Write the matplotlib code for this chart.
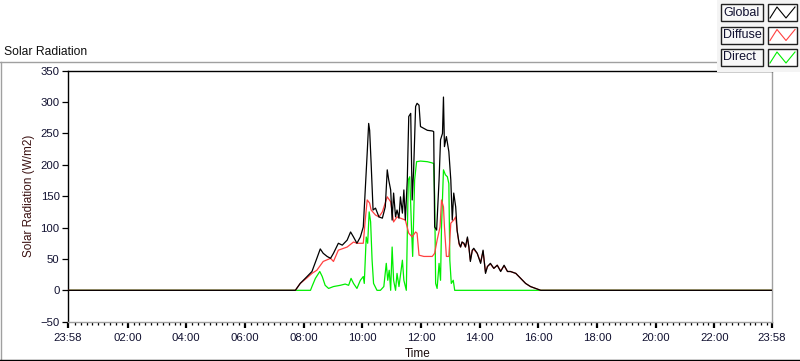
import matplotlib
matplotlib.use("Agg")
import matplotlib.pyplot as plt
from matplotlib.lines import Line2D
from matplotlib.patches import Rectangle

plt.rcParams["font.family"] = ["Liberation Sans", "DejaVu Sans"]

W, H = 800, 361

# time axis in minutes after midnight, values in W/m2
global_t = [-2, 463, 473, 487, 497, 507, 514, 520, 528, 535, 541, 551, 559, 569, 576,
            582, 589, 596, 602, 606, 610, 613, 615, 618, 622, 627, 634, 641, 647, 651,
            654, 658, 661, 664, 668, 671, 675, 678, 682, 685, 688, 692, 695, 699, 702,
            705, 709, 712, 716, 719, 726, 733, 743, 746, 748, 752, 757, 760, 764, 766,
            768, 772, 777, 781, 784, 787, 791, 794, 798, 801, 804, 808, 811, 815, 818,
            821, 825, 828, 835, 842, 847, 852, 856, 862, 869, 876, 883, 890, 897, 903,
            914, 924, 934, 944, 958, 965, 1438]
global_v = [0, 0, 11, 22, 30, 51, 66, 59, 54, 51, 59, 75, 72, 80, 93,
            85, 75, 85, 101, 160, 219, 266, 255, 203, 128, 131, 117, 115, 133, 192,
            176, 160, 112, 155, 117, 128, 115, 149, 123, 160, 112, 176, 277, 282, 144,
            192, 293, 298, 295, 261, 258, 255, 254, 253, 101, 96, 176, 240, 250, 308,
            229, 245, 221, 176, 112, 155, 133, 95, 75, 69, 77, 75, 69, 85, 69,
            46, 64, 67, 59, 43, 64, 27, 38, 43, 35, 40, 30, 40, 30, 30,
            27, 19, 11, 6, 2, 0, 0]

diffuse_t = [-2, 463, 473, 487, 497, 507, 520, 535, 541, 551, 569, 582, 589, 602, 606,
             610, 615, 618, 627, 634, 641, 651, 658, 664, 671, 678, 688, 695, 702, 709,
             712, 716, 726, 743, 748, 753, 759, 762, 766, 768, 772, 777, 781, 787, 791,
             794, 798, 801, 804, 808, 811, 815, 818, 821, 825, 828, 835, 842, 847, 852,
             856, 862, 869, 876, 883, 890, 897, 903, 914, 924, 934, 944, 958, 965, 1438]
diffuse_v = [0, 0, 11, 20, 27, 32, 46, 51, 46, 64, 69, 77, 75, 75, 112,
             144, 139, 128, 120, 117, 125, 149, 141, 109, 117, 115, 112, 91, 85, 93,
             91, 56, 54, 54, 59, 80, 101, 144, 133, 101, 54, 54, 107, 112, 117,
             95, 73, 69, 77, 73, 69, 83, 69, 48, 64, 65, 59, 45, 62, 29,
             38, 42, 35, 40, 31, 39, 30, 30, 27, 19, 11, 6, 2, 0, 0]

direct_t = [-2, 463, 494, 497, 504, 513, 518, 524, 531, 541, 555, 565, 572, 577, 582,
            589, 596, 602, 604, 608, 611, 614, 617, 620, 623, 630, 637, 644, 649, 652,
            655, 658, 661, 664, 668, 671, 675, 682, 685, 690, 694, 697, 701, 703, 707,
            711, 719, 733, 743, 746, 748, 750, 753, 757, 760, 762, 766, 770, 774, 777,
            779, 782, 786, 789, 1438]
direct_v = [0, 0, 0, 6, 19, 30, 22, 8, 3, 6, 8, 10, 8, 19, 11,
            3, 16, 22, 11, 85, 75, 125, 109, 48, 11, 0, 0, 6, 43, 16,
            32, 0, 69, 16, 0, 27, 6, 48, 16, 0, 176, 181, 91, 54, 176,
            205, 206, 205, 203, 202, 149, 11, 3, 43, 16, 101, 192, 184, 181, 170,
            48, 11, 16, 0, 0]

series_names = ["Global", "Diffuse", "Direct"]
series_colors = ["#000000", "#ff4040", "#00ee00"]

x_ticks = [-2, 120, 240, 360, 480, 600, 720, 840, 960, 1080, 1200, 1320, 1438]
x_labels = ["23:58", "02:00", "04:00", "06:00", "08:00", "10:00", "12:00",
            "14:00", "16:00", "18:00", "20:00", "22:00", "23:58"]
y_ticks = [-50, 0, 50, 100, 150, 200, 250, 300, 350]


def fx(x):
    return x / W


def fy(y):
    return 1 - y / H


fig = plt.figure(figsize=(W / 100, H / 100), dpi=100)
fig.patch.set_facecolor("white")

# outer panel frame
fig.add_artist(Line2D([fx(0), fx(717)], [fy(61.5), fy(61.5)], color="#a0a0a0", lw=1))
fig.add_artist(Line2D([fx(0.5), fx(0.5)], [fy(61.5), fy(359.5)], color="#a0a0a0", lw=1))
fig.add_artist(Line2D([fx(0), fx(800)], [fy(359.5), fy(359.5)], color="black", lw=1))
fig.text(fx(4), fy(55), "Solar Radiation", fontsize=8.7, color="#101010", va="baseline")

ax = fig.add_axes([fx(68), fy(321.7), (772 - 68) / W, (321.7 - 70.7) / H])
ax.set_xlim(-2, 1438)
ax.set_ylim(-50, 350)

ax.plot(direct_t, direct_v, color=series_colors[2], lw=0.9, zorder=2)
ax.plot(diffuse_t, diffuse_v, color=series_colors[1], lw=0.9, zorder=3)
ax.plot(global_t, global_v, color=series_colors[0], lw=0.9, zorder=4)

ax.set_xticks(x_ticks)
ax.set_xticklabels(x_labels)
ax.set_xticks([m for m in range(12, 1440, 12) if m % 120 != 0], minor=True)
ax.set_yticks(y_ticks)
ax.tick_params(axis="x", which="major", length=4, width=1.6, pad=4,
               labelsize=8.2, labelcolor="#101030")
ax.tick_params(axis="x", which="minor", length=2.5, width=0.9)
ax.tick_params(axis="y", which="major", length=4, width=0.9, pad=2,
               labelsize=8.2, labelcolor="#101030")

for side in ["top", "left"]:
    ax.spines[side].set_color("black")
for side in ["right", "bottom"]:
    ax.spines[side].set_color("#a0a0a0")
for sp in ax.spines.values():
    sp.set_linewidth(1)

ax.set_ylabel("Solar Radiation (W/m2)", fontsize=8.5, color="#3a1010")
ax.yaxis.set_label_coords((35 - 68) / 704, 0.5)
ax.set_xlabel("Time", fontsize=8.5, color="#1a0a0a")
ax.xaxis.set_label_coords(0.497, -0.105)

# legend panel in the top right corner
fig.add_artist(Rectangle((fx(717), fy(72)), fx(83), 72 / H, transform=fig.transFigure,
                         facecolor="#f4f4f4", edgecolor="none", zorder=5))
rows = [4, 26.5, 49]
for name, color, top in zip(series_names, series_colors, rows):
    fig.add_artist(Rectangle((fx(721), fy(top + 17)), fx(42), 17 / H,
                             transform=fig.transFigure, facecolor="#f8f8f8",
                             edgecolor="#202020", lw=1, zorder=6))
    fig.add_artist(Rectangle((fx(768), fy(top + 17)), fx(29), 17 / H,
                             transform=fig.transFigure, facecolor="white",
                             edgecolor="#202020", lw=1, zorder=6))
    fig.text(fx(723), fy(top + 8.5), name, fontsize=9, color="#101030",
             va="center", ha="left", zorder=7)
    sx = [770, 777, 786, 795]
    sy = [top + 14, top + 3, top + 14, top + 3]
    fig.add_artist(Line2D([fx(v) for v in sx], [fy(v) for v in sy],
                          color=color, lw=0.8, zorder=7))

fig.savefig("out.png", dpi=100)
